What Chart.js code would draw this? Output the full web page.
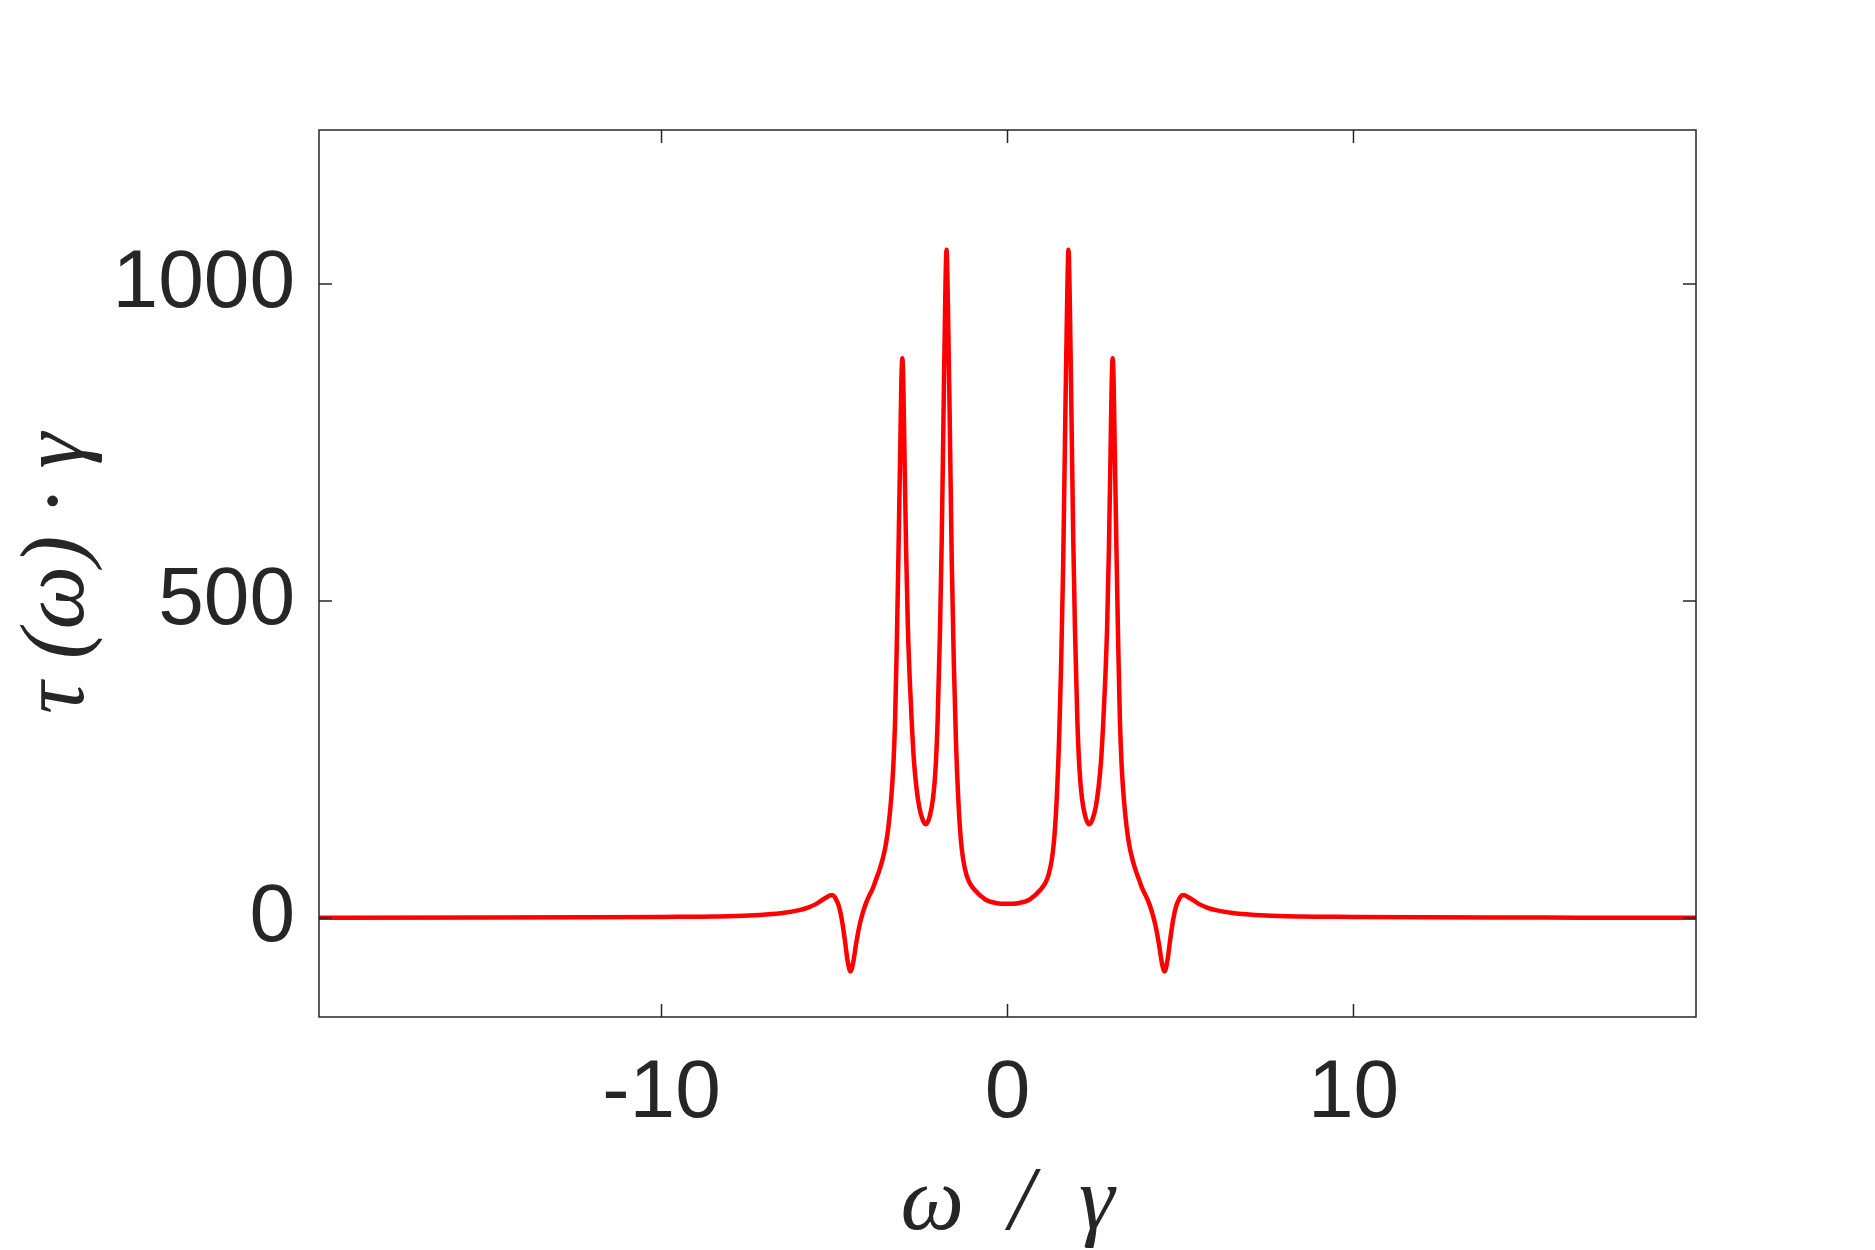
<!DOCTYPE html>
<html lang="en">
<head>
    <meta charset="UTF-8">
    <title>tau(omega) spectrum</title>
    <script src="https://cdn.jsdelivr.net/npm/chart.js"></script>
    <style>
        body { margin: 0; background: white; }
        canvas { display: block; }
    </style>
</head>
<body>
    <canvas id="grafico" width="1875" height="1250"></canvas>

    <script>
        // omega / gamma
        let omega = [
            -19.9, -15, -12, -10, -8.43, -7.47, -6.5, -6.02, -5.75, -5.54, -5.4, -5.25, -5.11, -5.05, -4.96, -4.87, -4.78, -4.70,
            -4.62, -4.54, -4.46, -4.38, -4.29, -4.20, -4.10, -4.00, -3.90, -3.80, -3.70, -3.60, -3.52, -3.44, -3.36, -3.30,
            -3.25, -3.20, -3.15, -3.10, -3.07, -3.04, -3.01, -2.98, -2.93, -2.88, -2.82, -2.76, -2.70, -2.63, -2.55, -2.45,
            -2.36, -2.25, -2.15, -2.08, -2.02, -1.95, -1.90, -1.85, -1.80, -1.763, -1.72, -1.668, -1.61, -1.55, -1.49, -1.42,
            -1.35, -1.28, -1.19, -1.1, -0.96, -0.63, -0.3, 0,
            0.3, 0.63, 0.96, 1.1, 1.19, 1.28, 1.35, 1.42, 1.49, 1.55, 1.61, 1.668, 1.72, 1.763, 1.80, 1.85, 1.90, 1.95,
            2.02, 2.08, 2.15, 2.25, 2.36, 2.45, 2.55, 2.63, 2.70, 2.76, 2.82, 2.88, 2.93, 2.98, 3.01, 3.04, 3.07, 3.10,
            3.15, 3.20, 3.25, 3.30, 3.36, 3.44, 3.52, 3.60, 3.70, 3.80, 3.90, 4.00, 4.10, 4.20, 4.29, 4.38, 4.46, 4.54,
            4.62, 4.70, 4.78, 4.87, 4.96, 5.05, 5.11, 5.25, 5.4, 5.54, 5.75, 6.02, 6.5, 7.47, 8.43, 10, 12, 15, 19.9
        ];
        // tau(omega) * gamma
        let tau = [
            0.5, 0.8, 1.2, 1.8, 2.5, 4, 8, 12.5, 17, 22, 27, 32, 36, 36, 30, 18, -5, -35,
            -68, -84, -70, -42, -15, 5, 22, 35, 46, 61, 76, 95, 115, 145, 190, 240,
            310, 430, 580, 740, 840, 883, 840, 740, 580, 460, 370, 300, 245, 205, 175, 155,
            148, 160, 190, 235, 310, 456, 600, 790, 975, 1054, 960, 779, 560, 400, 280, 185,
            125, 92, 69, 56, 45, 29, 23.5, 22.5,
            23.5, 29, 45, 56, 69, 92, 125, 185, 280, 400, 560, 779, 960, 1054, 975, 790, 600, 456,
            310, 235, 190, 160, 148, 155, 175, 205, 245, 300, 370, 460, 580, 740, 840, 883, 840, 740,
            580, 430, 310, 240, 190, 145, 115, 95, 76, 61, 46, 35, 22, 5, -15, -42, -70, -84,
            -68, -35, -5, 18, 30, 36, 36, 32, 27, 22, 17, 12.5, 8, 4, 2.5, 1.8, 1.2, 0.8, 0.5
        ];
        let xTicks = [-10, 0, 10];
        let yTicks = [0, 500, 1000];

        const gris = '#262626';

        // caja completa con ticks hacia dentro (estilo MATLAB)
        const cajaTicks = {
            id: 'cajaTicks',
            afterDraw(chart) {
                const { ctx, chartArea: a, scales: { x, y } } = chart;
                ctx.save();
                ctx.strokeStyle = gris;
                ctx.lineWidth = 1.5;
                ctx.strokeRect(a.left, a.top, a.right - a.left, a.bottom - a.top);
                ctx.beginPath();
                xTicks.forEach(v => {
                    const px = x.getPixelForValue(v);
                    ctx.moveTo(px, a.bottom); ctx.lineTo(px, a.bottom - 13);
                    ctx.moveTo(px, a.top); ctx.lineTo(px, a.top + 13);
                });
                yTicks.forEach(v => {
                    const py = y.getPixelForValue(v);
                    ctx.moveTo(a.left, py); ctx.lineTo(a.left + 13, py);
                    ctx.moveTo(a.right, py); ctx.lineTo(a.right - 13, py);
                });
                ctx.stroke();
                ctx.restore();
            }
        };

        const fuenteTicks = { family: "'Liberation Sans', Arial, sans-serif", size: 82 };
        const fuenteTitulo = { family: "'Liberation Serif', serif", size: 90, style: 'italic', lineHeight: 1.0 };

        let ctx = document.getElementById('grafico').getContext('2d');
        let chart = new Chart(ctx, {
            type: 'line',
            data: {
                datasets: [{
                    data: omega.map((w, i) => ({ x: w, y: tau[i] })),
                    borderColor: '#ff0000',
                    borderWidth: 4.5,
                    pointRadius: 0,
                    cubicInterpolationMode: 'monotone',
                    fill: false
                }]
            },
            options: {
                responsive: false,
                animation: false,
                devicePixelRatio: 1,
                layout: { padding: { top: 130, right: 179, left: 0, bottom: 0 } },
                plugins: { legend: { display: false }, tooltip: { enabled: false } },
                scales: {
                    x: {
                        type: 'linear',
                        min: -19.9,
                        max: 19.9,
                        afterBuildTicks: s => { s.ticks = xTicks.map(v => ({ value: v })); },
                        afterFit: s => { s.height = 233; },
                        grid: { display: false, drawTicks: false },
                        border: { display: false },
                        ticks: { font: fuenteTicks, color: gris, padding: 28, maxRotation: 0, callback: v => String(v) },
                        title: { display: true, text: 'ω  /  γ', font: fuenteTitulo, color: gris, padding: 0 }
                    },
                    y: {
                        type: 'linear',
                        min: -156,
                        max: 1243,
                        afterBuildTicks: s => { s.ticks = yTicks.map(v => ({ value: v })); },
                        afterFit: s => { s.width = 319; },
                        grid: { display: false, drawTicks: false },
                        border: { display: false },
                        ticks: { font: fuenteTicks, color: gris, padding: 24, callback: v => String(v) },
                        title: { display: true, text: 'τ (ω) · γ', font: fuenteTitulo, color: gris, padding: { top: 14, bottom: 0 } }
                    }
                }
            },
            plugins: [cajaTicks]
        });
    </script>
</body>
</html>
